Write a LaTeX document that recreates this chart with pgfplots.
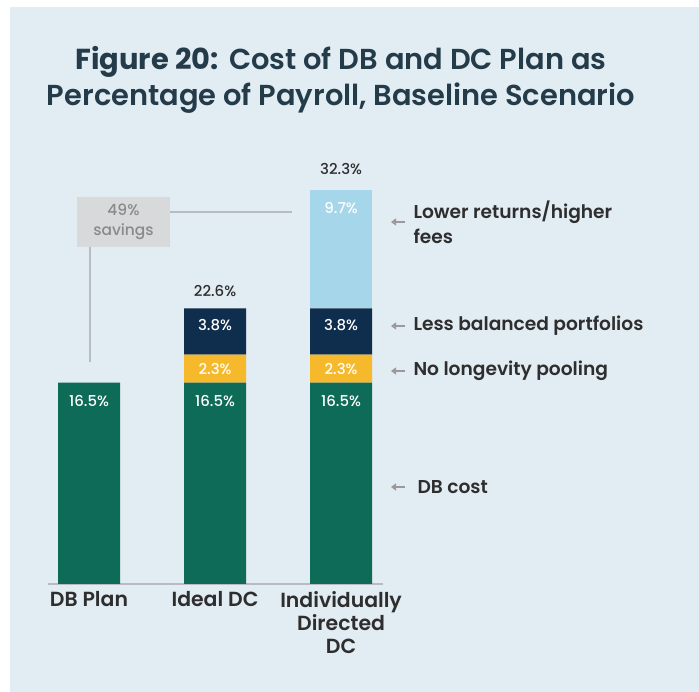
\documentclass[border=0pt]{standalone}
\usepackage{fontspec}
\setmainfont{Poppins}
\newfontfamily\medfont{Poppins Medium}
\newfontfamily\semifont{Poppins SemiBold}
\usepackage{pgfplots}
\pgfplotsset{compat=1.18}
\usetikzlibrary{arrows.meta}
\definecolor{panel}{HTML}{E2ECF3}
\definecolor{dbgreen}{HTML}{0D6B58}
\definecolor{lonyellow}{HTML}{F6B92B}
\definecolor{navy}{HTML}{0F2D4D}
\definecolor{lightblue}{HTML}{A6D6EA}
\definecolor{titlecol}{HTML}{243B4A}
\definecolor{txt}{HTML}{2E2E2E}
\definecolor{linegray}{HTML}{B8BCBF}
\definecolor{boxgray}{HTML}{D8D9DA}
\definecolor{savetxt}{HTML}{8A8A8A}
\definecolor{arrowgray}{HTML}{9A9A9A}

\begin{document}
\begin{tikzpicture}[x=1bp,y=1bp]
\useasboundingbox (0,0) rectangle (699,692);
\fill[white] (0,0) rectangle (699,692);
\fill[panel] (10,0) rectangle (699,685);

% title
\node[titlecol, font=\fontsize{29}{36}\selectfont, align=center] at (341,612)
  {{\bfseries Figure 20:} {\semifont Cost of DB and DC Plan as}\\
   {\semifont Percentage of Payroll, Baseline Scenario}};

% savings box
\fill[boxgray] (77,445) rectangle (170,495);
\node[savetxt, font=\medfont\fontsize{15.5}{20}\selectfont, align=center] at (123.5,470) {49\%\\savings};
\draw[linegray, line width=1.2pt] (170,480) -- (292,480);
\draw[linegray, line width=1.2pt] (90,445) -- (90,330);

\begin{axis}[
  at={(89bp,108bp)}, anchor=origin,
  scale only axis, width=335bp, height=488bp,
  xmin=-0.325, xmax=2.333, ymin=0, ymax=40,
  ybar stacked, bar width=62bp,
  axis x line*=bottom, axis y line=none,
  x axis line style={draw=linegray, line width=1.4pt, -},
  xtick={0,1,2},
  xticklabels={DB Plan, Ideal DC, Individually\\Directed\\DC},
  major tick length=0pt,
  x tick label style={align=center, text=txt, anchor=north, yshift=-4bp,
    font=\semifont\fontsize{20.5}{23}\selectfont},
  ytick=\empty,
  clip=false,
  point meta=explicit symbolic,
  nodes near coords,
  every node near coord/.append style={anchor=center, text=white,
    font=\medfont\fontsize{15}{18}\selectfont},
]
% stacked labels sit at the middle of each segment; shift them towards the top
\addplot[fill=dbgreen, draw=none, every node near coord/.append style={yshift=82bp}]
  coordinates {(0,16.5)[16.5\%] (1,16.5)[16.5\%] (2,16.5)[16.5\%]};
\addplot[fill=lonyellow, draw=none, every node near coord/.append style={yshift=0bp}]
  coordinates {(0,0)[] (1,2.3)[2.3\%] (2,2.3)[2.3\%]};
\addplot[fill=navy, draw=none, every node near coord/.append style={yshift=6bp}]
  coordinates {(0,0)[] (1,3.8)[3.8\%] (2,3.8)[3.8\%]};
\addplot[fill=lightblue, draw=none, every node near coord/.append style={yshift=41bp}]
  coordinates {(0,0)[] (1,0)[] (2,9.7)[9.7\%]};
% totals
\node[txt, font=\medfont\fontsize{15}{18}\selectfont, anchor=south, yshift=8bp] at (axis cs:1,22.6) {22.6\%};
\node[txt, font=\medfont\fontsize{15}{18}\selectfont, anchor=south, yshift=12bp] at (axis cs:2,32.3) {32.3\%};
\end{axis}

% annotations
\tikzset{ann/.style={arrowgray, line width=1.6pt, -{Triangle[length=5bp,width=7bp]}}}
\draw[ann] (405,470) -- (391,470);
\node[txt, font=\semifont\fontsize{18.7}{25}\selectfont, align=left, anchor=west] at (410,470)
  {Lower returns/higher\\fees};
\draw[ann] (405,366) -- (391,366);
\node[txt, font=\semifont\fontsize{18.7}{21}\selectfont, anchor=west] at (410,366) {Less balanced portfolios};
\draw[ann] (405,321) -- (391,321);
\node[txt, font=\semifont\fontsize{18.7}{21}\selectfont, anchor=west] at (410,321) {No longevity pooling};
\draw[ann] (405,205) -- (391,205);
\node[txt, font=\semifont\fontsize{18.7}{21}\selectfont, anchor=west] at (414,205) {DB cost};
\end{tikzpicture}
\end{document}
